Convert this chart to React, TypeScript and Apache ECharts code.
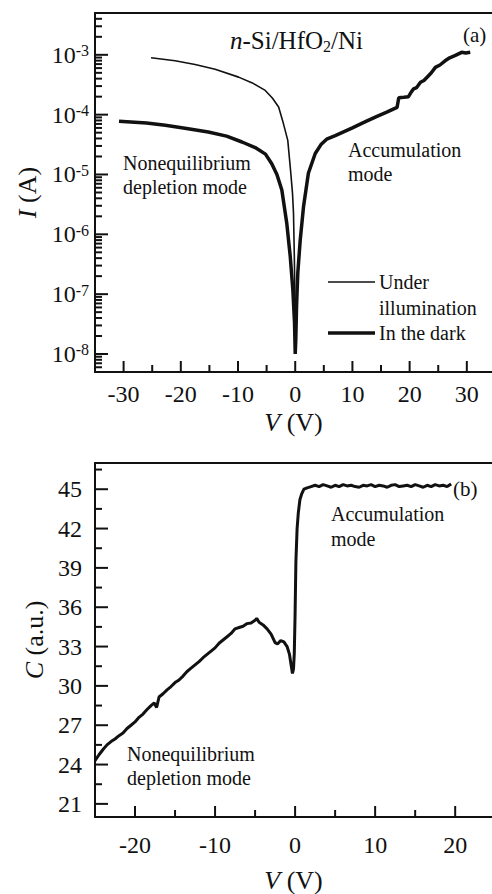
import React, { useEffect, useRef } from "react";
import * as echarts from "echarts";

const FONT = "'Liberation Serif', 'Times New Roman', serif";
const INK = "#111";

// ---- (a) I–V : in the dark (thick) ----
const darkV = [
  -30.8, -26, -22.7, -19, -15.2, -12, -9.3, -7, -5.2, -4.1, -3.2, -2.34, -1.47, -0.87, -0.41, -0.12, 0,
  0.1, 0.23, 0.45, 0.87, 1.45, 2.3, 3.5, 4.5, 5.5, 7, 10, 12, 14, 16, 17.8, 18.1, 19.0, 19.8, 20.3, 20.7,
  21.2, 21.9, 22.5, 23.3, 23.8, 24.5, 25.3, 26.2, 27.0, 28.0, 29.1, 29.8, 30.6,
];
const darkI = [
  7.74e-5, 7.24e-5, 6.64e-5, 5.89e-5, 5.13e-5, 4.37e-5, 3.49e-5, 2.82e-5, 2.19e-5, 1.51e-5, 1.0e-5, 5.5e-6,
  1.51e-6, 4.27e-7, 1.17e-7, 3.31e-8, 1.0e-8, 1.74e-8, 6.17e-8, 2.24e-7, 7.94e-7, 2.88e-6, 1.05e-5, 2.24e-5,
  3.16e-5, 3.89e-5, 4.47e-5, 6.03e-5, 7.41e-5, 9.12e-5, 1.1e-4, 1.32e-4, 1.91e-4, 1.95e-4, 2.0e-4, 2.4e-4,
  2.69e-4, 2.82e-4, 3.47e-4, 3.72e-4, 4.47e-4, 5.01e-4, 6.17e-4, 6.76e-4, 7.94e-4, 8.91e-4, 9.77e-4, 1.1e-3,
  1.07e-3, 1.1e-3,
];

// ---- (a) I–V : under illumination (thin) ----
const illumV = [-25.2, -21, -17.5, -14, -9.9, -7.5, -5.24, -4, -2.9, -2.2, -1.3, -0.77, -0.47, -0.3, -0.15, -0.05, 0.02];
const illumI = [
  8.91e-4, 7.94e-4, 6.89e-4, 5.75e-4, 4.24e-4, 3.39e-4, 2.54e-4, 1.9e-4, 1.34e-4, 7.94e-5, 3.72e-5, 1.05e-5,
  4.79e-6, 2.24e-6, 4.0e-7, 7.94e-8, 2.82e-8,
];

// ---- (b) C–V ----
const cvV = [
  -25, -24.5, -24, -23.5, -23, -22.5, -22, -21.5, -21, -20.5, -20, -19.5, -19, -18.5, -18, -17.6, -17.3, -17,
  -16.5, -16, -15.5, -15, -14.5, -14, -13.5, -13, -12.5, -12, -11.5, -11, -10.5, -10, -9.5, -9, -8.5, -8, -7.5,
  -7, -6.5, -6, -5.5, -5, -4.8, -4.5, -4, -3.5, -3, -2.5, -2.2, -1.8, -1.4, -1, -0.7, -0.45, -0.33, -0.2, -0.1,
  0, 0.1, 0.25, 0.4, 0.6, 0.8, 1.1, 1.5, 2, 2.5, 3, 3.5, 4, 4.5, 5, 5.5, 6, 6.5, 7, 7.5, 8, 8.5, 9, 9.5, 10,
  10.5, 11, 11.5, 12, 12.5, 13, 13.5, 14, 14.5, 15, 15.5, 16, 16.5, 17, 17.5, 18, 18.5, 19, 19.5,
];
const cvC = [
  24.3, 24.75, 25.15, 25.5, 25.75, 25.95, 26.2, 26.4, 26.75, 27.0, 27.25, 27.6, 27.85, 28.2, 28.5, 28.7, 28.35,
  29.15, 29.4, 29.7, 29.95, 30.25, 30.45, 30.75, 31.1, 31.35, 31.6, 31.85, 32.15, 32.4, 32.65, 32.9, 33.25, 33.5,
  33.75, 34.0, 34.35, 34.45, 34.55, 34.75, 34.8, 35.0, 35.15, 34.85, 34.65, 34.35, 33.95, 33.3, 33.2, 33.45,
  33.35, 33.0, 32.4, 31.4, 30.95, 31.3, 32.5, 35.5, 39.5, 42.0, 43.2, 44.2, 44.6, 45.0, 45.1, 45.2, 45.3, 45.2,
  45.35, 45.25, 45.15, 45.3, 45.2, 45.35, 45.25, 45.3, 45.2, 45.15, 45.3, 45.25, 45.35, 45.2, 45.3, 45.25,
  45.15, 45.3, 45.35, 45.2, 45.25, 45.3, 45.2, 45.35, 45.25, 45.15, 45.3, 45.2, 45.35, 45.25, 45.3, 45.2, 45.4,
];

// ---- tick labels / tick positions ----
const ivXLabels = [-30, -20, -10, 0, 10, 20, 30];
const ivXMinor = [-25, -15, -5, 5, 15, 25];
const ivYLabels = [1e-8, 1e-7, 1e-6, 1e-5, 1e-4, 1e-3];
const cvXLabels = [-20, -10, 0, 10, 20];
const cvXMinor = [-15, -5, 5, 15];
const cvYLabels = [21, 24, 27, 30, 33, 36, 39, 42, 45];
const cvYMinor = [22.5, 25.5, 28.5, 31.5, 34.5, 37.5, 40.5, 43.5, 46.5];

const ivYMinor: number[] = [];
for (let e = -9; e <= -3; e++) {
  for (let k = 2; k <= 9; k++) {
    const v = k * Math.pow(10, e);
    if (v > 5.01e-9 && v < 4.99e-3) ivYMinor.push(v);
  }
}

// visible axis ranges (the figure is cropped at the right edge)
const IV_X = [-35, 34.4];
const IV_Y = [5e-9, 5e-3];
const CV_X = [-25, 24.6];
const CV_Y = [20, 47];

const axisLine = { show: true, onZero: false, lineStyle: { color: INK, width: 2 } };
const labelBase = { show: true, color: INK, fontSize: 24, fontFamily: FONT };

// tick marks as scatter marks placed through the axes' own scales
function tickMarks(gridIdx: number, dir: "x" | "y", values: number[], len: number, xMin: number, yMin: number) {
  return {
    type: "scatter",
    xAxisIndex: gridIdx,
    yAxisIndex: gridIdx,
    silent: true,
    clip: false,
    z: 4,
    symbol: "rect",
    symbolSize: dir === "x" ? [2, len] : [len, 2],
    symbolOffset: dir === "x" ? [0, -len / 2] : [len / 2, 0],
    itemStyle: { color: INK, opacity: 1 },
    emphasis: { disabled: true },
    data: values.map((v) => (dir === "x" ? [v, yMin] : [xMin, v])),
  };
}

function topBorder(gridIndex: number, range: number[]) {
  return {
    gridIndex,
    type: "value",
    position: "top",
    min: range[0],
    max: range[1],
    splitLine: { show: false },
    axisLine,
    axisTick: { show: false },
    axisLabel: { show: false },
  };
}

export default function App() {
  const ref = useRef<HTMLDivElement>(null);
  useEffect(() => {
    if (!ref.current) return;
    const chart = echarts.init(ref.current, null, { renderer: "svg" });
    const nameStyle = (size: number) => ({
      color: INK,
      fontSize: size,
      fontFamily: FONT,
      rich: { i: { fontStyle: "italic", fontSize: size, fontFamily: FONT, color: INK } },
    });
    const txt = (text: string, x: number, y: number, size = 20) => ({
      type: "text",
      x,
      y,
      style: { text, fill: INK, fontSize: size, fontFamily: FONT, verticalAlign: "middle" },
    });
    chart.setOption({
      animation: false,
      backgroundColor: "#fff",
      title: {
        text: "{i|n}{m|-Si/HfO}{sub|2}{m|/Ni}",
        left: 230,
        top: 28,
        padding: 0,
        textStyle: {
          color: INK,
          fontFamily: FONT,
          fontSize: 25,
          fontWeight: "normal",
          rich: {
            i: { fontStyle: "italic", fontSize: 25, fontFamily: FONT, color: INK, lineHeight: 26, verticalAlign: "top" },
            m: { fontSize: 25, fontFamily: FONT, color: INK, lineHeight: 26, verticalAlign: "top" },
            sub: { fontSize: 16, fontFamily: FONT, color: INK, lineHeight: 16, verticalAlign: "bottom", padding: [14, 0, 0, 0] },
          },
        },
      },
      grid: [
        { left: 95, top: 13, width: 397, height: 359 },
        { left: 95, top: 463, width: 397, height: 360 },
      ],
      xAxis: [
        {
          gridIndex: 0,
          type: "value",
          min: IV_X[0],
          max: IV_X[1],
          splitLine: { show: false },
          axisLine,
          axisTick: { show: false },
          name: "{i|V} (V)",
          nameLocation: "middle",
          nameGap: 37,
          nameTextStyle: nameStyle(26),
          axisLabel: { ...labelBase, margin: 10, customValues: ivXLabels },
        },
        {
          gridIndex: 1,
          type: "value",
          min: CV_X[0],
          max: CV_X[1],
          splitLine: { show: false },
          axisLine,
          axisTick: { show: false },
          name: "{i|V} (V)",
          nameLocation: "middle",
          nameGap: 50,
          nameTextStyle: nameStyle(26),
          axisLabel: { ...labelBase, margin: 16, customValues: cvXLabels },
        },
        topBorder(0, IV_X),
        topBorder(1, CV_X),
      ],
      yAxis: [
        {
          gridIndex: 0,
          type: "log",
          logBase: 10,
          min: IV_Y[0],
          max: IV_Y[1],
          splitLine: { show: false },
          axisLine,
          axisTick: { show: false },
          name: "{i|I} (A)",
          nameLocation: "middle",
          nameGap: 55,
          nameTextStyle: nameStyle(26),
          axisLabel: {
            ...labelBase,
            margin: 6,
            customValues: ivYLabels,
            formatter: (v: number) => `{b|10}{s|${Math.round(Math.log10(v))}}`,
            rich: {
              b: { fontSize: 24, fontFamily: FONT, color: INK, lineHeight: 24, verticalAlign: "bottom" },
              s: { fontSize: 16, fontFamily: FONT, color: INK, lineHeight: 16, verticalAlign: "top", padding: [0, 0, 12, 0] },
            },
          },
        },
        {
          gridIndex: 1,
          type: "value",
          min: CV_Y[0],
          max: CV_Y[1],
          splitLine: { show: false },
          axisLine,
          axisTick: { show: false },
          name: "{i|C} (a.u.)",
          nameLocation: "middle",
          nameGap: 40,
          nameTextStyle: nameStyle(26),
          axisLabel: { ...labelBase, margin: 13, customValues: cvYLabels },
        },
      ],
      series: [
        {
          name: "In the dark",
          type: "line",
          xAxisIndex: 0,
          yAxisIndex: 0,
          data: darkV.map((v, i) => [v, darkI[i]]),
          showSymbol: false,
          lineStyle: { color: INK, width: 3.5 },
        },
        {
          name: "Under illumination",
          type: "line",
          xAxisIndex: 0,
          yAxisIndex: 0,
          data: illumV.map((v, i) => [v, illumI[i]]),
          showSymbol: false,
          lineStyle: { color: INK, width: 1.6 },
        },
        {
          name: "C-V",
          type: "line",
          xAxisIndex: 1,
          yAxisIndex: 1,
          data: cvV.map((v, i) => [v, cvC[i]]),
          showSymbol: false,
          lineStyle: { color: INK, width: 3 },
        },
        tickMarks(0, "x", ivXLabels, 11, IV_X[0], IV_Y[0]),
        tickMarks(0, "x", ivXMinor, 7, IV_X[0], IV_Y[0]),
        tickMarks(0, "y", ivYLabels, 13, IV_X[0], IV_Y[0]),
        tickMarks(0, "y", ivYMinor, 7, IV_X[0], IV_Y[0]),
        tickMarks(1, "x", cvXLabels, 11, CV_X[0], CV_Y[0]),
        tickMarks(1, "x", cvXMinor, 7, CV_X[0], CV_Y[0]),
        tickMarks(1, "y", cvYLabels, 13, CV_X[0], CV_Y[0]),
        tickMarks(1, "y", cvYMinor, 7, CV_X[0], CV_Y[0]),
      ],
      graphic: [
        txt("(a)", 463, 35, 21),
        txt("Nonequilibrium", 123, 163),
        txt("depletion mode", 123, 187),
        txt("Accumulation", 348, 150),
        txt("mode", 348, 174),
        { type: "line", shape: { x1: 328, y1: 282, x2: 375, y2: 282 }, style: { stroke: INK, lineWidth: 1.6 } },
        { type: "line", shape: { x1: 328, y1: 333, x2: 375, y2: 333 }, style: { stroke: INK, lineWidth: 3.5 } },
        txt("Under", 379, 282),
        txt("illumination", 379, 308),
        txt("In the dark", 379, 333),
        txt("(b)", 453, 489, 21),
        txt("Accumulation", 331, 514),
        txt("mode", 331, 539),
        txt("Nonequilibrium", 127, 754),
        txt("depletion mode", 127, 778),
      ],
    });
    return () => chart.dispose();
  }, []);
  return (
    <div style={{ position: "absolute", left: 0, top: 0, width: 492, height: 894, overflow: "hidden", background: "#fff" }}>
      <div ref={ref} style={{ width: 492, height: 894 }} />
    </div>
  );
}
